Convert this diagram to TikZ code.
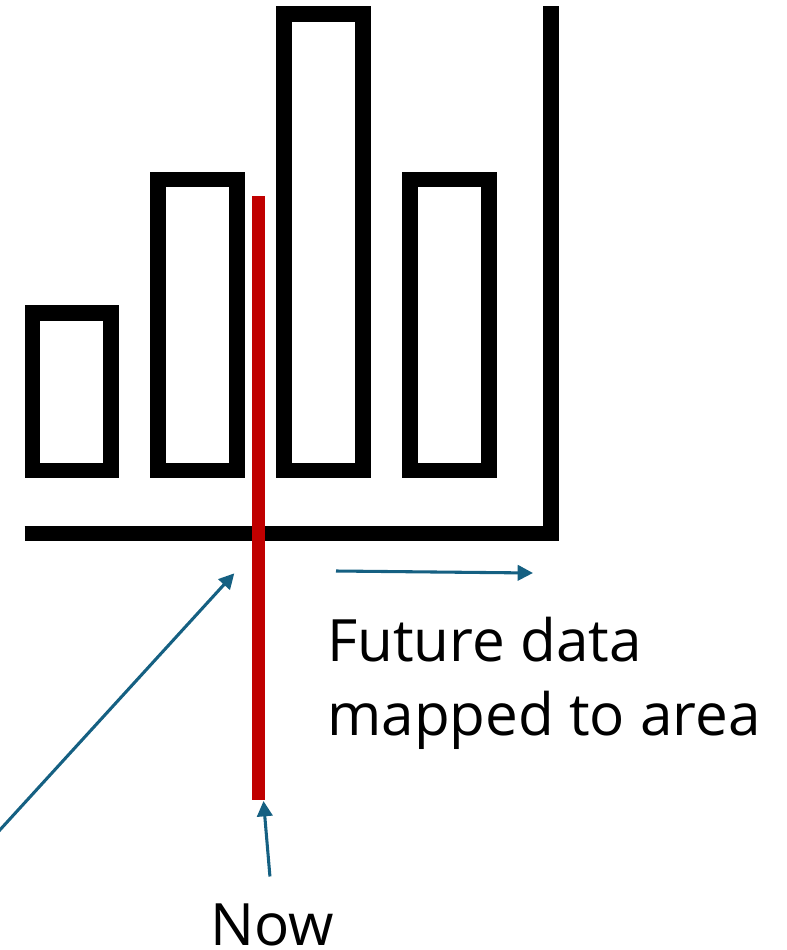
\documentclass[tikz,border=0pt]{standalone}
\usepackage{fontspec}
\setmainfont{Open Sans}
\usetikzlibrary{arrows.meta}
\definecolor{nowred}{HTML}{C00000}
\definecolor{arrowblue}{HTML}{156082}
\begin{document}
\begin{tikzpicture}[x=0.75pt,y=-0.75pt,
  bar/.style={draw=black,line width=11.8pt,line join=miter},
  axisline/.style={draw=black,line width=11.8pt,line cap=butt,line join=miter},
  nowline/.style={draw=nowred,line width=9.4pt},
  pointer/.style={draw=arrowblue,line width=2.3pt,-{Triangle[length=11.5pt,width=11.5pt]}},
  lbl/.style={font=\fontsize{43.8pt}{55.5pt}\selectfont,inner sep=0pt,text=black}]
\useasboundingbox (0,0) rectangle (787,950);
% bars
\draw[bar] (32.5,313.2) rectangle (111,470.4);
\draw[bar] (158.2,179.6) rectangle (236.8,470.4);
\draw[bar] (284.2,14.2) rectangle (362.8,470.4);
\draw[bar] (410.1,179.6) rectangle (488.8,470.4);
% axes
\draw[axisline] (24.7,533.5) -- (551.3,533.5) -- (551.3,6.3);
% now line
\coordinate (redtop) at (258.3,196);
\coordinate (redbottom) at (258.3,800);
\draw[nowline] (redtop) -- (redbottom);
% labels
\node[lbl,anchor=base,text depth=0pt] (now) at (272.2,945) {Now};
\node[lbl,anchor=base west] (future) at (327,661) {\vtop{\hbox{Future data}\hbox{mapped to area}}};
% arrows
\coordinate (leftstart) at (-2,832);
\coordinate (lefttip) at (234.3,573.3);
\coordinate (futstart) at (336,571);
\coordinate (futtip) at (533,573);
\coordinate (nowtip) at (263.5,801);
\draw[pointer] (leftstart) -- (lefttip);
\draw[pointer] (futstart) -- (futtip);
\draw[pointer,shorten <=20pt] (now.north) -- (nowtip);
\end{tikzpicture}
\end{document}
